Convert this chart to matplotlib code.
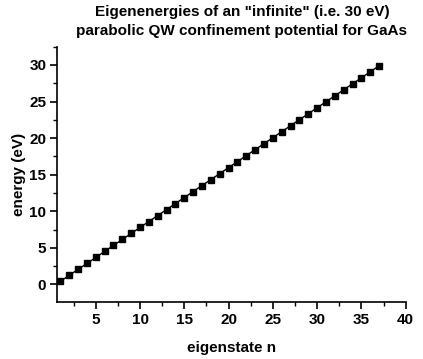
import matplotlib
matplotlib.use("Agg")
import matplotlib.pyplot as plt
from matplotlib.ticker import MultipleLocator

plt.rcParams['font.family'] = ['Liberation Sans', 'DejaVu Sans']
plt.rcParams['font.weight'] = 'bold'

n = list(range(1, 38))
energy = [0.41, 1.23, 2.05, 2.86, 3.68, 4.50, 5.32, 6.14, 6.96, 7.78,
          8.59, 9.41, 10.23, 11.05, 11.87, 12.69, 13.51, 14.32, 15.14, 15.96,
          16.78, 17.60, 18.42, 19.23, 20.05, 20.87, 21.69, 22.51, 23.33, 24.15,
          24.96, 25.78, 26.60, 27.42, 28.24, 29.06, 29.88]

title = 'Eigenenergies of an "infinite" (i.e. 30 eV)\nparabolic QW confinement potential for GaAs'

fig = plt.figure(figsize=(4.23, 3.59), dpi=100)
ax = fig.add_axes([0.1355, 0.158, 0.8235, 0.712])
ax.plot(n, energy, color='black', lw=1.0, marker='s', markersize=4.3)
ax.set_xlim(0.66, 40)
ax.set_ylim(-2.45, 32.5)
ax.xaxis.set_major_locator(MultipleLocator(5))
ax.xaxis.set_minor_locator(MultipleLocator(2.5))
ax.yaxis.set_major_locator(MultipleLocator(5))
ax.yaxis.set_minor_locator(MultipleLocator(2.5))
ax.set_xticks([5, 10, 15, 20, 25, 30, 35, 40])
for s in ['top', 'right']:
    ax.spines[s].set_visible(False)
for s in ['left', 'bottom']:
    ax.spines[s].set_linewidth(1.2)
ax.tick_params(which='major', direction='out', length=5, width=1.2, labelsize=11, pad=3)
ax.tick_params(which='minor', direction='out', length=3, width=1.0)
for lab in ax.get_xticklabels() + ax.get_yticklabels():
    lab.set_fontweight('bold')
ax.set_xlabel('eigenstate n', fontsize=11, fontweight='bold', labelpad=10)
ax.set_ylabel('energy (eV)', fontsize=11, fontweight='bold', labelpad=2)
fig.text(0.572, 0.985, title, ha='center', va='top', fontsize=11,
         fontweight='bold', linespacing=1.45)
fig.savefig('out.png', dpi=100)
